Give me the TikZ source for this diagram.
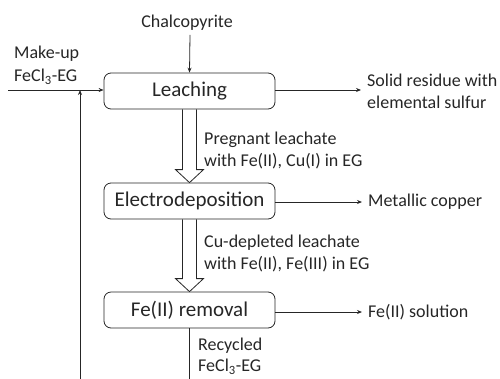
\documentclass[tikz,border=0pt]{standalone}
\usepackage{fontspec}
\setmainfont{Carlito}
\usetikzlibrary{arrows.meta,calc}
\definecolor{ink}{HTML}{262626}
\begin{document}
\begin{tikzpicture}[x=1pt,y=-1pt,
  proc/.style={draw=ink, rounded corners=7pt, line width=0.8pt, minimum width=171pt, minimum height=36pt, font=\fontsize{21}{25}\selectfont, text=ink, inner sep=0pt},
  lbl/.style={font=\fontsize{18}{22}\selectfont, align=left, inner sep=0pt, text=ink},
  flow/.style={draw=ink, line width=0.8pt, -{Stealth[length=5pt,width=4pt]}},
  hollow/.style={draw=ink, line width=0.8pt, line join=miter}]
\useasboundingbox (0,0) rectangle (500,378);
\clip (0,0) rectangle (500,378);
% process boxes
\node[proc] (leach) at (189.5,91) {Leaching};
\node[proc] (elec) at (189.5,201) {Electrodeposition};
\node[proc] (fer) at (189.5,310) {Fe(II) removal};
% hollow arrows
\draw[hollow] ($(leach.south)+(-7,0)$) |- ($(elec.north)+(-14,-13)$) -- (elec.north) -- ($(elec.north)+(14,-13)$) -| ($(leach.south)+(7,0)$);
\draw[hollow] ($(elec.south)+(-7,0)$) |- ($(fer.north)+(-14,-13)$) -- (fer.north) -- ($(fer.north)+(14,-13)$) -| ($(elec.south)+(7,0)$);
% feed
\node[lbl, anchor=center] (chalco) at (187,23) {Chalcopyrite};
\draw[flow] ($(chalco.south)+(3,4)$) -- (leach.north);
\node[lbl, anchor=west, font=\fontsize{18}{23}\selectfont] (makeup) at (14,65) {Make-up\\FeCl\textsubscript{3}-EG};
\coordinate (inL) at (8,90);
\draw[flow] (inL) -- (inL -| leach.west);
% recycle
\coordinate (rb) at (80,380);
\draw[flow] (rb) -- (rb |- inL);
\draw[draw=ink, line width=0.8pt] (fer.south) -- (fer.south |- rb);
% outputs
\node[lbl, anchor=west] (solid) at (367,91.5) {Solid residue with\\elemental sulfur};
\draw[flow] (leach.east |- 0,90) -- ($(solid.west |- 0,90)+(-6,0)$);
\node[lbl, anchor=west] (cu) at (368,202) {Metallic copper};
\draw[flow] (elec.east |- cu.west) -- ($(cu.west)+(-6,0)$);
\node[lbl, anchor=west] (fesol) at (368,312) {Fe(II) solution};
\draw[flow] (fer.east |- fesol.west) -- ($(fesol.west)+(-6,0)$);
% stream labels
\node[lbl, anchor=west] (preg) at (204,150) {Pregnant leachate\\with Fe(II), Cu(I) in EG};
\node[lbl, anchor=west] (dep) at (204,253) {Cu-depleted leachate\\with Fe(II), Fe(III) in EG};
\node[lbl, anchor=west, font=\fontsize{18}{21}\selectfont] (rec) at (198,356) {Recycled\\FeCl\textsubscript{3}-EG};
\end{tikzpicture}
\end{document}
